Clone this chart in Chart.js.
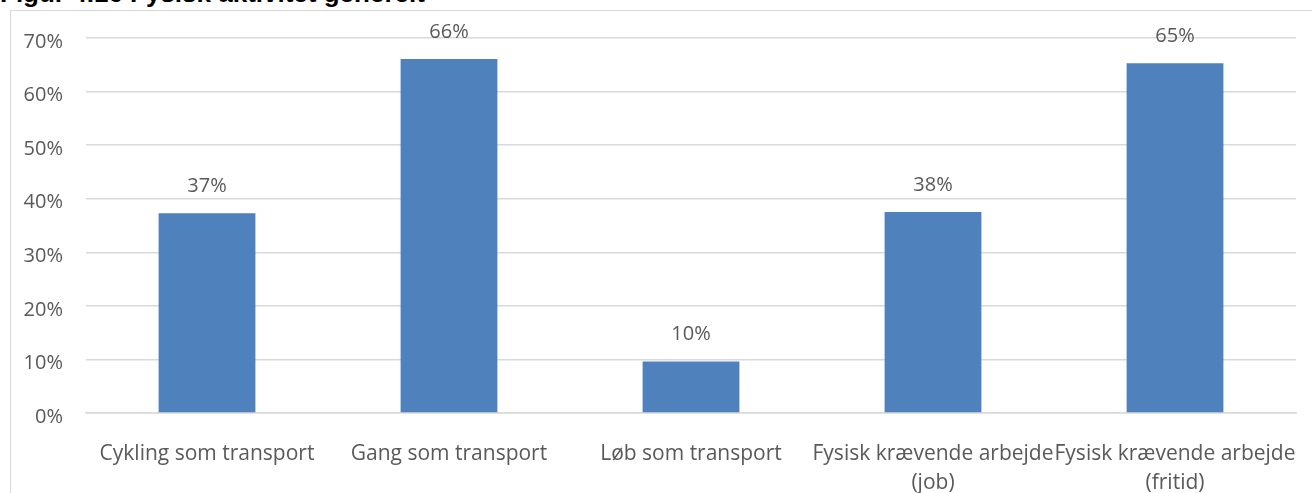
<!DOCTYPE html>
<html>
<head>
<meta charset="utf-8">
<script src="https://cdn.jsdelivr.net/npm/chart.js@4"></script>
<style>
  html, body { margin: 0; padding: 0; background: #fff; overflow: hidden; }
  #title {
    position: absolute; left: 0px; top: -20px;
    font: bold 26px "Liberation Sans", Arial, sans-serif; color: #000;
    line-height: 26px; white-space: nowrap;
  }
  #box {
    position: absolute; left: 10px; top: 10px; width: 1320px; height: 500px;
    border: 1px solid #d9d9d9; box-sizing: border-box;
  }
  #chart { position: absolute; left: 0; top: 0; }
</style>
</head>
<body>
<div id="box"><canvas id="chart" width="1318" height="498"></canvas></div>
<div id="title">Figur 4.16 Fysisk aktivitet generelt</div>
<script>
const categories = [
  'Cykling som transport',
  'Gang som transport',
  'Løb som transport',
  ['Fysisk krævende arbejde', '(job)'],
  ['Fysisk krævende arbejde', '(fritid)']
];
const values = [37.3, 66.1, 9.6, 37.5, 65.3];
const valueLabels = ['37%', '66%', '10%', '38%', '65%'];
const yTicks = [0, 10, 20, 30, 40, 50, 60, 70];

const textColor = '#595959';
const fontFamily = '"Open Sans", "DejaVu Sans", sans-serif';

const barLabels = {
  id: 'barLabels',
  afterDatasetsDraw(chart) {
    const ctx = chart.ctx;
    ctx.save();
    ctx.fillStyle = textColor;
    ctx.font = '20px ' + fontFamily;
    ctx.textAlign = 'center';
    ctx.textBaseline = 'middle';
    chart.getDatasetMeta(0).data.forEach((bar, i) => {
      ctx.fillText(valueLabels[i], bar.x, bar.y - 27);
    });
    ctx.restore();
  }
};

new Chart(document.getElementById('chart'), {
  type: 'bar',
  data: {
    labels: categories,
    datasets: [{
      data: values,
      backgroundColor: '#4f81bd',
      borderWidth: 0,
      categoryPercentage: 0.4,
      barPercentage: 1
    }]
  },
  options: {
    responsive: false,
    animation: false,
    layout: { padding: { top: 27, right: 33, left: 0, bottom: 0 } },
    scales: {
      x: {
        grid: { display: false },
        border: { color: '#d9d9d9', width: 1.5 },
        ticks: {
          color: textColor,
          font: { family: fontFamily, size: 21, lineHeight: 1.4 },
          maxRotation: 0,
          autoSkip: false,
          padding: 18
        },
        afterFit(axis) { axis.height = 96; }
      },
      y: {
        min: 0,
        max: 70,
        grid: { color: '#d9d9d9', lineWidth: 1.5, drawTicks: false },
        border: { display: false },
        afterBuildTicks(axis) { axis.ticks = yTicks.map(v => ({ value: v })); },
        ticks: {
          color: textColor,
          font: { family: fontFamily, size: 20 },
          padding: 23,
          labelOffset: 4,
          callback: v => v + '%'
        },
        afterFit(axis) {
          axis.width = 75;
          axis.paddingTop = 0;
          axis.paddingBottom = 0;
        }
      }
    },
    plugins: {
      legend: { display: false },
      tooltip: { enabled: false }
    }
  },
  plugins: [barLabels]
});
</script>
</body>
</html>
